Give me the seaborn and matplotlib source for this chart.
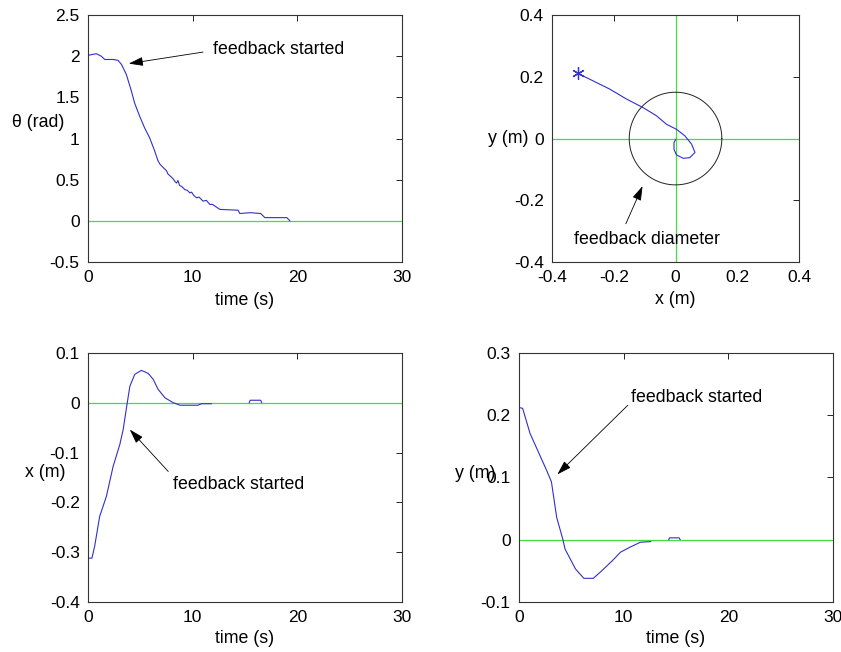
import numpy as np
import pandas as pd
import matplotlib
matplotlib.use('Agg')
import matplotlib.pyplot as plt
import seaborn as sns

# theta (rad) vs time
theta_t = [0, 0.8, 1.27, 1.6, 2.4, 2.87, 3.2, 3.66, 4.14, 4.46, 4.94, 5.41, 5.89, 6.37, 6.69,
           6.87, 7.17, 7.5, 7.64, 7.9, 8.14, 8.3, 8.46, 8.6, 8.75, 8.94, 9.1, 9.26, 9.5, 9.74,
           9.9, 10.1, 10.38, 10.6, 11.0, 11.3, 11.65, 11.9, 12.6, 14.35, 14.5, 15.5, 16.5,
           16.9, 19.0, 19.3]
theta_v = [2.01, 2.03, 2.0, 1.96, 1.96, 1.95, 1.90, 1.78, 1.58, 1.43, 1.27, 1.13, 1.01, 0.85,
           0.73, 0.69, 0.65, 0.61, 0.57, 0.54, 0.51, 0.48, 0.46, 0.49, 0.43, 0.42, 0.40,
           0.38, 0.37, 0.34, 0.35, 0.31, 0.28, 0.29, 0.24, 0.25, 0.20, 0.20, 0.14, 0.13,
           0.09, 0.10, 0.09, 0.04, 0.04, 0.0]

# x (m) vs time, two pieces
x_t = [0, 0.38, 0.64, 1.12, 1.76, 2.4, 3.04, 3.36, 3.68, 4.0, 4.47, 5.1, 5.75, 6.23, 6.7,
       7.35, 8.15, 8.8, 10.5, 10.87, 11.8, 15.4, 15.5, 16.5, 16.6]
x_v = [-0.312, -0.312, -0.288, -0.228, -0.188, -0.128, -0.084, -0.054, -0.01, 0.033, 0.057,
       0.065, 0.059, 0.047, 0.027, 0.01, 0.0, -0.005, -0.005, -0.002, -0.002, 0.0, 0.005,
       0.005, 0.0]
x_seg = [0] * 21 + [1] * 4

# y (m) vs time, two pieces
y_t = [0.1, 0.35, 1.05, 1.85, 2.65, 3.1, 3.6, 4.2, 4.4, 5.4, 6.2, 7.1, 7.9, 8.9, 9.7, 10.6,
       11.6, 12.6, 14.3, 14.4, 15.3, 15.4]
y_v = [0.212, 0.211, 0.171, 0.141, 0.111, 0.093, 0.036, 0.0, -0.015, -0.047, -0.062, -0.062,
       -0.05, -0.034, -0.02, -0.012, -0.004, -0.003, 0.0, 0.003, 0.003, 0.0]
y_seg = [0] * 18 + [1] * 4

# trajectory in the plane
traj_x = [-0.315, -0.3, -0.213, -0.159, -0.105, -0.062, -0.029, 0.003, 0.03, 0.052, 0.063,
          0.046, 0.025, 0.003, -0.005, -0.005, 0.001]
traj_y = [0.211, 0.203, 0.16, 0.128, 0.1, 0.074, 0.046, 0.03, 0.009, -0.018, -0.045,
          -0.062, -0.064, -0.053, -0.035, -0.013, -0.002]
radius = 0.15

sns.set_style('white')
plt.rcParams['font.family'] = ['Liberation Sans', 'DejaVu Sans']
plt.rcParams['font.size'] = 12.5
plt.rcParams['text.color'] = 'black'
plt.rcParams['axes.labelcolor'] = 'black'

BLUE = '#3030cc'
GREEN = '#3fe03f'
FS = 12.8
arrow = dict(arrowstyle='-|>,head_length=0.7,head_width=0.22', color='black', lw=0.6,
             shrinkA=0, shrinkB=0)

fig = plt.figure(figsize=(8.41, 6.52), dpi=100)
ax1 = fig.add_axes([0.1046, 0.598, 0.3734, 0.379])
ax2 = fig.add_axes([0.6564, 0.598, 0.2937, 0.379])
ax3 = fig.add_axes([0.1046, 0.0767, 0.3734, 0.382])
ax4 = fig.add_axes([0.6171, 0.0767, 0.3734, 0.382])


def style(ax):
    ax.tick_params(direction='in', top=True, right=True, length=4, width=0.6,
                   labelsize=12.5, pad=6, colors='black')
    for s in ax.spines.values():
        s.set_color('#333333')
        s.set_linewidth(0.8)
    ax.grid(False)


# theta
df1 = pd.DataFrame({'t': theta_t, 'v': theta_v})
ax1.axhline(0, color=GREEN, lw=0.9)
sns.lineplot(data=df1, x='t', y='v', ax=ax1, color=BLUE, lw=0.8, sort=False, estimator=None)
ax1.set_xlim(0, 30)
ax1.set_ylim(-0.5, 2.5)
ax1.set_xticks([0, 10, 20, 30])
ax1.set_yticks([-0.5, 0, 0.5, 1, 1.5, 2, 2.5])
ax1.set_yticklabels(['-0.5', '0', '0.5', '1', '1.5', '2', '2.5'])
ax1.set_xlabel('time (s)', fontsize=FS)
ax1.set_ylabel('θ (rad)', rotation=0, ha='center', va='center', fontsize=FS)
ax1.yaxis.set_label_coords(-0.16, 0.565)
ax1.xaxis.set_label_coords(0.5, -0.121)
ax1.annotate('', xy=(3.9, 1.91), xytext=(11.0, 2.05), arrowprops=arrow)
ax1.text(11.9, 2.08, 'feedback started', va='center', ha='left', fontsize=FS)
style(ax1)

# trajectory
df2 = pd.DataFrame({'x': traj_x, 'y': traj_y})
ax2.axhline(0, color=GREEN, lw=0.9)
ax2.axvline(0, color=GREEN, lw=0.9)
ang = np.linspace(0, 2 * np.pi, 200)
ax2.plot(radius * np.cos(ang), radius * np.sin(ang), color='#222222', lw=0.7)
sns.lineplot(data=df2, x='x', y='y', ax=ax2, color=BLUE, lw=0.8, sort=False, estimator=None)
ax2.plot(traj_x[0], traj_y[0], marker=(6, 2, 0), color=BLUE, ms=9, mew=0.9,
         linestyle='none')
ax2.set_xlim(-0.4, 0.4)
ax2.set_ylim(-0.4, 0.4)
ticks = [-0.4, -0.2, 0, 0.2, 0.4]
ax2.set_xticks(ticks)
ax2.set_yticks(ticks)
ax2.set_xticklabels(['-0.4', '-0.2', '0', '0.2', '0.4'])
ax2.set_yticklabels(['-0.4', '-0.2', '0', '0.2', '0.4'])
ax2.set_xlabel('x (m)', fontsize=FS)
ax2.set_ylabel('y (m)', rotation=0, ha='center', va='center', fontsize=FS)
ax2.yaxis.set_label_coords(-0.178, 0.502)
ax2.xaxis.set_label_coords(0.5, -0.117)
ax2.annotate('', xy=(-0.107, -0.154), xytext=(-0.161, -0.276), arrowprops=arrow)
ax2.text(-0.33, -0.326, 'feedback diameter', va='center', ha='left', fontsize=FS)
style(ax2)

# x vs time
df3 = pd.DataFrame({'t': x_t, 'v': x_v, 'seg': x_seg})
ax3.axhline(0, color=GREEN, lw=0.9)
sns.lineplot(data=df3, x='t', y='v', units='seg', estimator=None, ax=ax3, color=BLUE,
             lw=0.8, sort=False)
ax3.set_xlim(0, 30)
ax3.set_ylim(-0.4, 0.1)
ax3.set_xticks([0, 10, 20, 30])
ax3.set_yticks([-0.4, -0.3, -0.2, -0.1, 0, 0.1])
ax3.set_yticklabels(['-0.4', '-0.3', '-0.2', '-0.1', '0', '0.1'])
ax3.set_xlabel('time (s)', fontsize=FS)
ax3.set_ylabel('x (m)', rotation=0, ha='center', va='center', fontsize=FS)
ax3.yaxis.set_label_coords(-0.137, 0.518)
ax3.xaxis.set_label_coords(0.5, -0.112)
ax3.annotate('', xy=(4.0, -0.054), xytext=(7.67, -0.138), arrowprops=arrow)
ax3.text(8.08, -0.165, 'feedback started', va='center', ha='left', fontsize=FS)
style(ax3)

# y vs time
df4 = pd.DataFrame({'t': y_t, 'v': y_v, 'seg': y_seg})
ax4.axhline(0, color=GREEN, lw=0.9)
sns.lineplot(data=df4, x='t', y='v', units='seg', estimator=None, ax=ax4, color=BLUE,
             lw=0.8, sort=False)
ax4.set_xlim(0, 30)
ax4.set_ylim(-0.1, 0.3)
ax4.set_xticks([0, 10, 20, 30])
ax4.set_yticks([-0.1, 0, 0.1, 0.2, 0.3])
ax4.set_yticklabels(['-0.1', '0', '0.1', '0.2', '0.3'])
ax4.set_xlabel('time (s)', fontsize=FS)
ax4.set_ylabel('y (m)', rotation=0, ha='center', va='center', fontsize=FS)
ax4.yaxis.set_label_coords(-0.14, 0.514)
ax4.xaxis.set_label_coords(0.5, -0.112)
ax4.annotate('', xy=(3.67, 0.105), xytext=(10.4, 0.216), arrowprops=arrow)
ax4.text(10.7, 0.228, 'feedback started', va='center', ha='left', fontsize=FS)
style(ax4)

fig.savefig('out.png', dpi=100)
